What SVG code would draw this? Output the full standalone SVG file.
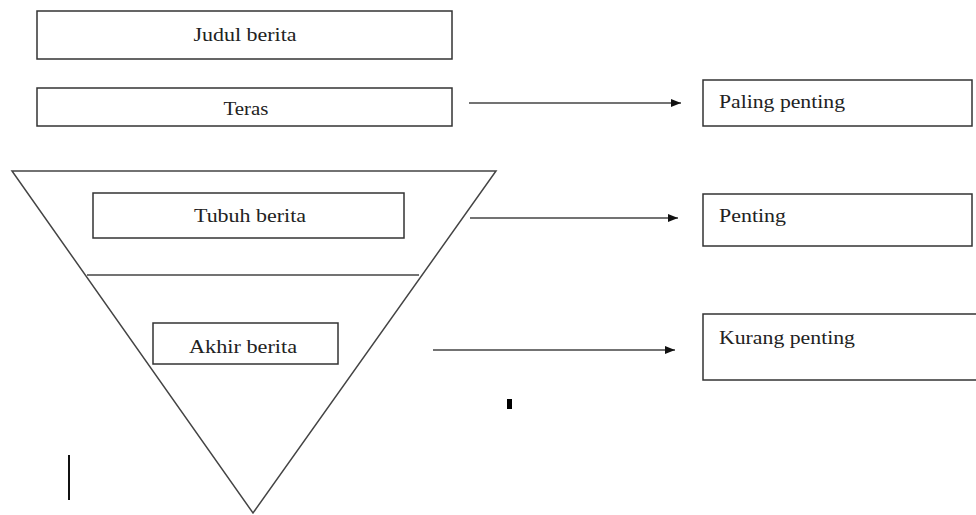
<svg xmlns="http://www.w3.org/2000/svg" width="976" height="515" viewBox="0 0 976 515">
<defs>
<style>
.box{fill:#fff;stroke:#333;stroke-width:1.5}
.t{font-family:"Liberation Serif","Times New Roman",serif;font-size:19px;fill:#222}
.c{text-anchor:middle}
.conn{stroke:#444;stroke-width:1.5;fill:none;marker-end:url(#ah)}
.shape{fill:none;stroke:#444;stroke-width:1.5}
</style>
<marker id="ah" viewBox="0 0 10 10" refX="10" refY="5" markerWidth="11" markerHeight="10" markerUnits="userSpaceOnUse" orient="auto">
<path d="M0,1 L10,5 L0,9 z" fill="#111"/>
</marker>
</defs>
<rect width="976" height="515" fill="#fff"/>
<g id="pyramid">
<polygon class="shape" points="12,171 496,171 253,513"/>
<line class="shape" x1="87" y1="275" x2="419" y2="275" stroke="#777"/>
</g>
<g id="judul">
<rect class="box" x="37" y="11" width="415" height="48"/>
<text class="t c" x="245" y="41" textLength="103" lengthAdjust="spacingAndGlyphs">Judul berita</text>
</g>
<g id="teras">
<rect class="box" x="37" y="88" width="415" height="38"/>
<text class="t c" x="246" y="115" textLength="45" lengthAdjust="spacingAndGlyphs">Teras</text>
</g>
<g id="tubuh">
<rect class="box" x="93" y="193" width="311" height="45"/>
<text class="t c" x="250" y="222" textLength="112" lengthAdjust="spacingAndGlyphs">Tubuh berita</text>
</g>
<g id="akhir">
<rect class="box" x="153" y="323" width="185" height="41"/>
<text class="t c" x="243" y="353" textLength="108" lengthAdjust="spacingAndGlyphs">Akhir berita</text>
</g>
<g id="paling">
<rect class="box" x="703" y="80" width="269" height="46"/>
<text class="t" x="719" y="108" textLength="126" lengthAdjust="spacingAndGlyphs">Paling penting</text>
</g>
<g id="penting">
<rect class="box" x="703" y="194" width="269" height="52"/>
<text class="t" x="719" y="222" textLength="67" lengthAdjust="spacingAndGlyphs">Penting</text>
</g>
<g id="kurang">
<rect class="box" x="703" y="314" width="290" height="66"/>
<text class="t" x="719" y="344" textLength="136" lengthAdjust="spacingAndGlyphs">Kurang penting</text>
</g>
<g id="connectors">
<line class="conn" x1="469" y1="103" x2="681" y2="103"/>
<line class="conn" x1="470" y1="218" x2="678" y2="218"/>
<line class="conn" x1="433" y1="350" x2="675" y2="350"/>
</g>
<g id="marks">
<rect x="507" y="399" width="5" height="10" fill="#000"/>
<rect x="68" y="455" width="2" height="45" fill="#111"/>
</g>
</svg>
